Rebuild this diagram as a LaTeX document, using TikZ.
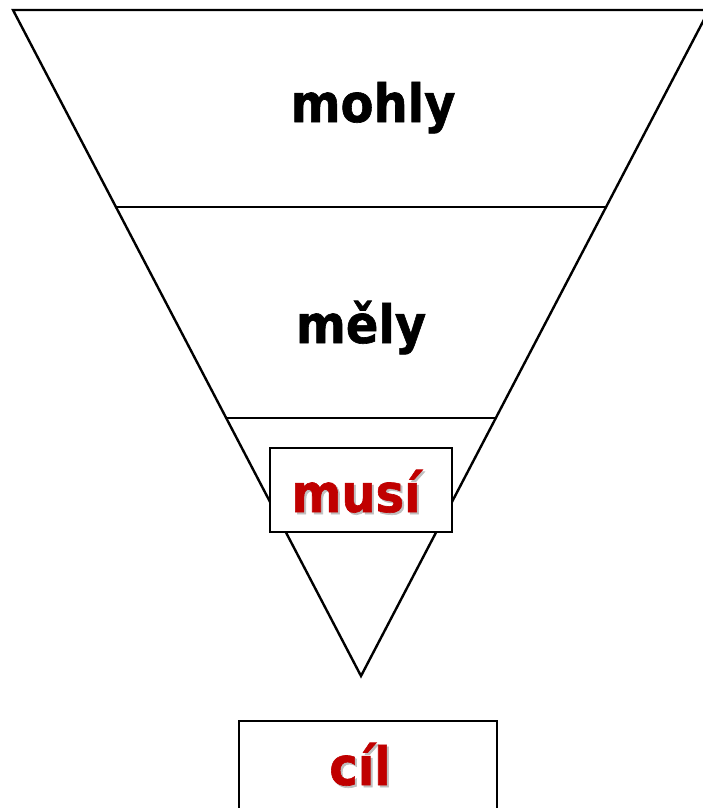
\documentclass[tikz,border=0pt]{standalone}
\usepackage{fontspec}
\setmainfont{DejaVu Sans}[BoldFeatures={FakeBold=1.2}]
\usetikzlibrary{calc}
\definecolor{cilred}{RGB}{192,0,0}

\tikzset{
  level/.style={line width=2.4pt},
  word/.style={inner sep=0pt, anchor=base, yscale=1.1, font=\bfseries\fontsize{48}{56}\selectfont},
  redword/.style={word, text=cilred},
  shade/.style={word, text=black!25},
  framebox/.style={draw, line width=2.8pt, fill=white, inner sep=0pt}
}

\begin{document}
\begin{tikzpicture}[x=1pt, y=-1pt]

  \useasboundingbox (0,0) rectangle (702,808);

  % funnel
  \coordinate (tl) at (13,10);
  \coordinate (tr) at (709,10);
  \coordinate (apex) at (361,676);
  \draw[level, line join=miter] (tl) -- (tr) -- (apex) -- cycle;

  \draw[level] ($(tl)!0.2958!(apex)$) -- ($(tr)!0.2958!(apex)$); % mohly / mely
  \draw[level] ($(tl)!0.6126!(apex)$) -- ($(tr)!0.6126!(apex)$); % mely / musi

  \node[word] (mohly) at (373,122) {mohly};
  \node[word] (mely) at (361,343) {měly};

  % boxes
  \node[framebox, minimum width=182pt, minimum height=84pt] (musibox) at (361,490) {};
  \node[shade] (musishade) at (358,514) {musí};
  \node[redword] (musi) at (356,512) {musí};

  \node[framebox, minimum width=258pt, minimum height=180pt] (cilbox) at (368,811) {};
  \node[shade] (cilshade) at (362,787) {cíl};
  \node[redword] (cil) at (360,785) {cíl};

\end{tikzpicture}
\end{document}
